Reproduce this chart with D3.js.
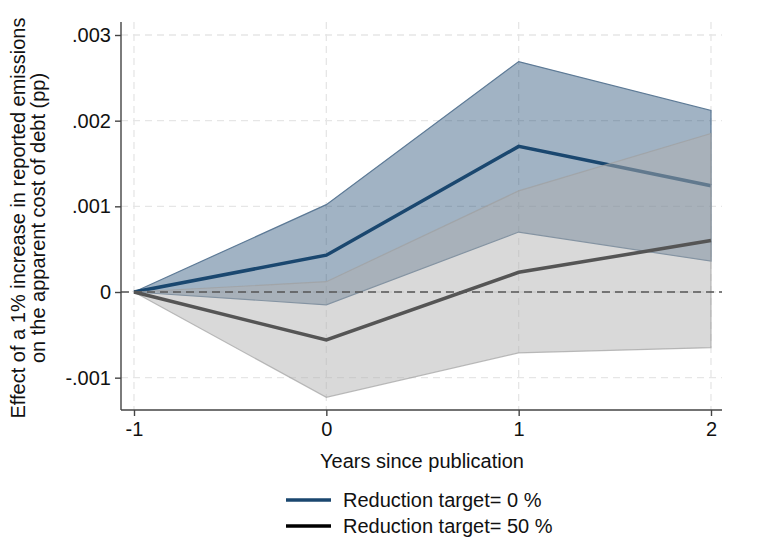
<!DOCTYPE html>
<html>
<head>
<meta charset="utf-8">
<script src="https://cdn.jsdelivr.net/npm/d3@7"></script>
<style>
  body { margin: 0; background: #fff; }
  text { font-family: "Liberation Sans", Arial, sans-serif; }
</style>
</head>
<body>
<div id="chart"></div>
<script>
// years since publication
var years = [-1, 0, 1, 2];
// reduction target = 0 %
var est0 = [0, 0.00043, 0.0017, 0.00124];
var hi0  = [0, 0.00102, 0.00269, 0.00212];
var lo0  = [0, -0.00015, 0.0007, 0.00036];
// reduction target = 50 %
var est50 = [0, -0.00056, 0.00023, 0.0006];
var hi50  = [0, 0.00012, 0.00118, 0.00185];
var lo50  = [0, -0.00123, -0.00071, -0.00065];

var yTicks = [-0.001, 0, 0.001, 0.002, 0.003];
var yTickLabels = ["-.001", "0", ".001", ".002", ".003"];
var legendLabels = ["Reduction target= 0 %", "Reduction target= 50 %"];

var W = 768, H = 558;
var svg = d3.select("#chart").append("svg")
    .attr("width", W).attr("height", H);

// scales
var x = d3.scaleLinear().domain([-1, 2]).range([134, 711]);
var y = d3.scaleLinear().domain([0, 0.003]).range([292, 35]);

var plotLeft = 121, plotRight = 722, plotTop = 22, plotBottom = 410;
var fs = "20px";

// grid
svg.append("g").selectAll("line")
  .data(yTicks).enter().append("line")
    .attr("x1", plotLeft).attr("x2", plotRight)
    .attr("y1", function(d) { return y(d); })
    .attr("y2", function(d) { return y(d); })
    .attr("stroke", "#e6e6e6").attr("stroke-width", 1.3)
    .attr("stroke-dasharray", "7,5");
svg.append("g").selectAll("line")
  .data(years).enter().append("line")
    .attr("x1", function(d) { return x(d); })
    .attr("x2", function(d) { return x(d); })
    .attr("y1", plotTop).attr("y2", plotBottom)
    .attr("stroke", "#e6e6e6").attr("stroke-width", 1.3)
    .attr("stroke-dasharray", "7,5");

function rows(e, lo, hi) {
  return years.map(function(t, i) { return {t: t, e: e[i], lo: lo[i], hi: hi[i]}; });
}
var s0 = rows(est0, lo0, hi0), s50 = rows(est50, lo50, hi50);

var area = d3.area()
  .x(function(d) { return x(d.t); })
  .y0(function(d) { return y(d.lo); })
  .y1(function(d) { return y(d.hi); });
var line = d3.line()
  .x(function(d) { return x(d.t); })
  .y(function(d) { return y(d.e); });

// blue band + line
svg.append("path").datum(s0).attr("d", area)
  .attr("fill", "rgba(26,71,111,0.41)")
  .attr("stroke", "#5d7a96").attr("stroke-width", 1.2);
svg.append("path").datum(s0).attr("d", line)
  .attr("fill", "none").attr("stroke", "#1a476f").attr("stroke-width", 3.5);

// gray band
svg.append("path").datum(s50).attr("d", area)
  .attr("fill", "rgba(176,176,176,0.48)")
  .attr("stroke", "rgba(160,160,160,0.7)").attr("stroke-width", 1.2);

// zero reference line
svg.append("line")
  .attr("x1", plotLeft).attr("x2", plotRight)
  .attr("y1", y(0)).attr("y2", y(0))
  .attr("stroke", "#555").attr("stroke-width", 1.6)
  .attr("stroke-dasharray", "8,5");

// gray line
svg.append("path").datum(s50).attr("d", line)
  .attr("fill", "none").attr("stroke", "#555555").attr("stroke-width", 3.5);

// axes
var yAxis = d3.axisLeft(y).tickValues(yTicks)
  .tickFormat(function(d, i) { return yTickLabels[i]; })
  .tickSize(6).tickPadding(4);
var gy = svg.append("g").attr("transform", "translate(" + plotLeft + ",0)").call(yAxis);
gy.select(".domain").attr("d", "M0," + plotTop + "V" + plotBottom);

var xAxis = d3.axisBottom(x).tickValues(years).tickFormat(function(d) { return String(d); })
  .tickSize(6).tickPadding(6);
var gx = svg.append("g").attr("transform", "translate(0," + plotBottom + ")").call(xAxis);
gx.select(".domain").attr("d", "M" + plotLeft + ",0H" + plotRight);

[gx, gy].forEach(function(g) {
  g.selectAll(".domain").attr("stroke", "#444").attr("stroke-width", 1.4);
  g.selectAll(".tick line").attr("stroke", "#444").attr("stroke-width", 1.4);
  g.selectAll(".tick text").attr("fill", "#111").style("font-size", fs)
    .style("font-family", "'Liberation Sans', Arial, sans-serif");
});

// axis titles
svg.append("text")
  .attr("x", 422).attr("y", 468).attr("text-anchor", "middle")
  .style("font-size", fs).attr("fill", "#111")
  .text("Years since publication");

var yt = svg.append("text")
  .attr("transform", "translate(25,218) rotate(-90)")
  .attr("text-anchor", "middle").style("font-size", fs).attr("fill", "#111");
yt.append("tspan").attr("x", 0).attr("dy", 0).text("Effect of a 1% increase in reported emissions");
yt.append("tspan").attr("x", 0).attr("dy", 20).text("on the apparent cost of debt (pp)");

// legend
var legColors = ["#1a476f", "#000000"];
var leg = svg.append("g").selectAll("g")
  .data(legendLabels).enter().append("g")
    .attr("transform", function(d, i) { return "translate(286," + (500 + i * 26) + ")"; });
leg.append("line").attr("x1", 0).attr("x2", 45).attr("y1", 0).attr("y2", 0)
  .attr("stroke", function(d, i) { return legColors[i]; }).attr("stroke-width", 3.5);
leg.append("text").attr("x", 57).attr("y", 7)
  .style("font-size", fs).attr("fill", "#111")
  .text(function(d) { return d; });
</script>
</body>
</html>
